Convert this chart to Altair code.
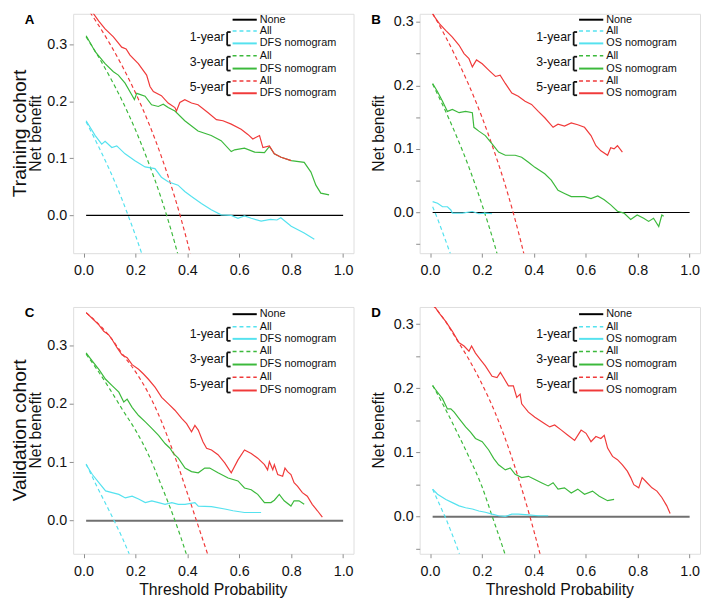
import altair as alt
import pandas as pd

# ---------------- data ----------------
YEARS = ["1-year", "3-year", "5-year"]
LINE_COLORS = ["#55e2ef", "#3cb93c", "#f03a3a"]
X_TICKS = [0.0, 0.2, 0.4, 0.6, 0.8, 1.0]
X_DOMAIN = [-0.04, 1.04]
NONE_X = [0.01, 1.0]
NONE_NB = [0.0, 0.0]

# Panel A: training cohort, DFS
A_NOM_1Y = [(0.01, 0.166), (0.045, 0.14), (0.07, 0.125), (0.083, 0.13), (0.109, 0.119), (0.128, 0.122),
            (0.16, 0.108), (0.198, 0.096), (0.237, 0.085), (0.275, 0.082), (0.30, 0.067), (0.326, 0.059),
            (0.364, 0.053), (0.39, 0.042), (0.416, 0.033), (0.454, 0.021), (0.492, 0.010), (0.53, 0.001),
            (0.569, 0.0), (0.595, -0.005), (0.62, -0.001), (0.646, -0.005), (0.684, -0.010), (0.72, -0.007),
            (0.745, -0.008), (0.76, -0.004), (0.8, -0.019), (0.85, -0.031), (0.889, -0.042)]
A_NOM_3Y = [(0.01, 0.315), (0.045, 0.287), (0.083, 0.266), (0.115, 0.252), (0.134, 0.246), (0.16, 0.232),
            (0.185, 0.212), (0.196, 0.203), (0.205, 0.214), (0.237, 0.209), (0.262, 0.194), (0.288, 0.191),
            (0.307, 0.195), (0.326, 0.189), (0.352, 0.183), (0.39, 0.166), (0.441, 0.148), (0.492, 0.14),
            (0.53, 0.131), (0.569, 0.112), (0.582, 0.115), (0.62, 0.118), (0.659, 0.111), (0.697, 0.11),
            (0.716, 0.121), (0.735, 0.108), (0.761, 0.102), (0.8, 0.096), (0.85, 0.093), (0.876, 0.076),
            (0.895, 0.053), (0.914, 0.039), (0.946, 0.036)]
A_NOM_5Y = [(0.01, 0.372), (0.058, 0.341), (0.083, 0.327), (0.115, 0.313), (0.147, 0.295), (0.164, 0.292),
            (0.179, 0.281), (0.211, 0.266), (0.243, 0.246), (0.256, 0.226), (0.269, 0.217), (0.30, 0.21),
            (0.326, 0.197), (0.352, 0.189), (0.358, 0.183), (0.371, 0.198), (0.39, 0.203), (0.416, 0.197),
            (0.441, 0.194), (0.48, 0.18), (0.512, 0.168), (0.537, 0.166), (0.569, 0.16), (0.607, 0.151),
            (0.633, 0.142), (0.652, 0.134), (0.665, 0.137), (0.678, 0.14), (0.691, 0.119), (0.716, 0.122),
            (0.735, 0.108), (0.761, 0.102), (0.8, 0.096)]
A_ALL_1Y = [(0.01, 0.164), (0.05, 0.128), (0.1, 0.08), (0.125, 0.054), (0.15, 0.026), (0.175, -0.004),
            (0.2, -0.035), (0.225, -0.068), (0.25, -0.104)]
A_ALL_3Y = [(0.01, 0.313), (0.05, 0.284), (0.1, 0.244), (0.15, 0.2), (0.2, 0.15), (0.25, 0.093),
            (0.3, 0.029), (0.35, -0.046), (0.4, -0.133)]
A_ALL_5Y = [(0.01, 0.366), (0.05, 0.339), (0.1, 0.302), (0.15, 0.261), (0.2, 0.215), (0.25, 0.163),
            (0.3, 0.103), (0.35, 0.034), (0.4, -0.047), (0.45, -0.142)]

# Panel B: training cohort, OS
B_NOM_1Y = [(0.01, 0.017), (0.029, 0.0145), (0.048, 0.009), (0.067, 0.009), (0.08, 0.004), (0.086, -0.001),
            (0.125, -0.001), (0.163, 0.0015), (0.188, -0.002), (0.213, -0.001), (0.239, -0.002)]
B_NOM_3Y = [(0.01, 0.203), (0.029, 0.19), (0.048, 0.175), (0.067, 0.159), (0.086, 0.162), (0.112, 0.157),
            (0.137, 0.159), (0.163, 0.157), (0.169, 0.134), (0.188, 0.128), (0.213, 0.121), (0.239, 0.108),
            (0.264, 0.095), (0.29, 0.09), (0.328, 0.09), (0.353, 0.087), (0.379, 0.079), (0.404, 0.071),
            (0.442, 0.061), (0.467, 0.051), (0.493, 0.035), (0.518, 0.03), (0.544, 0.025), (0.569, 0.025),
            (0.595, 0.025), (0.62, 0.022), (0.646, 0.026), (0.671, 0.02), (0.696, 0.012), (0.722, 0.002),
            (0.747, -0.001), (0.773, -0.011), (0.798, -0.004), (0.823, -0.009), (0.842, -0.014),
            (0.861, -0.009), (0.881, -0.022), (0.893, -0.004), (0.9, -0.006)]
B_NOM_5Y = [(0.01, 0.312), (0.036, 0.297), (0.061, 0.286), (0.086, 0.276), (0.112, 0.263), (0.131, 0.25),
            (0.15, 0.242), (0.163, 0.229), (0.179, 0.24), (0.201, 0.234), (0.226, 0.224), (0.252, 0.214),
            (0.27, 0.216), (0.29, 0.203), (0.315, 0.188), (0.34, 0.183), (0.366, 0.175), (0.391, 0.17),
            (0.417, 0.159), (0.442, 0.149), (0.474, 0.134), (0.493, 0.139), (0.518, 0.136), (0.544, 0.141),
            (0.569, 0.138), (0.595, 0.134), (0.62, 0.121), (0.639, 0.105), (0.658, 0.097), (0.684, 0.09),
            (0.696, 0.102), (0.709, 0.1), (0.722, 0.105), (0.741, 0.095)]
B_ALL_1Y = [(0.01, 0.009), (0.03, -0.011), (0.05, -0.033), (0.075, -0.061), (0.1, -0.09)]
B_ALL_3Y = [(0.01, 0.202), (0.05, 0.168), (0.1, 0.122), (0.15, 0.071), (0.2, 0.0125), (0.25, -0.053),
            (0.3, -0.129)]
B_ALL_5Y = [(0.01, 0.313), (0.05, 0.284), (0.1, 0.244), (0.15, 0.2), (0.2, 0.15), (0.25, 0.093),
            (0.3, 0.029), (0.35, -0.046), (0.4, -0.133)]

# Panel C: validation cohort, DFS
C_NOM_1Y = [(0.01, 0.096), (0.034, 0.079), (0.059, 0.065), (0.085, 0.051), (0.11, 0.048), (0.136, 0.045),
            (0.161, 0.039), (0.187, 0.042), (0.212, 0.037), (0.238, 0.031), (0.263, 0.034), (0.289, 0.031),
            (0.314, 0.028), (0.34, 0.031), (0.365, 0.028), (0.391, 0.028), (0.429, 0.031), (0.442, 0.025),
            (0.493, 0.024), (0.544, 0.02), (0.576, 0.017), (0.62, 0.014), (0.684, 0.014)]
C_NOM_3Y = [(0.01, 0.287), (0.034, 0.273), (0.059, 0.259), (0.085, 0.242), (0.11, 0.231), (0.136, 0.22),
            (0.155, 0.203), (0.168, 0.208), (0.187, 0.194), (0.212, 0.18), (0.238, 0.169), (0.263, 0.158),
            (0.289, 0.146), (0.314, 0.132), (0.333, 0.124), (0.346, 0.115), (0.365, 0.107), (0.391, 0.09),
            (0.416, 0.084), (0.442, 0.082), (0.467, 0.09), (0.486, 0.09), (0.518, 0.082), (0.557, 0.073),
            (0.595, 0.068), (0.62, 0.056), (0.646, 0.053), (0.671, 0.045), (0.697, 0.031), (0.722, 0.031),
            (0.735, 0.035), (0.754, 0.045), (0.773, 0.034), (0.799, 0.025), (0.811, 0.034), (0.83, 0.034),
            (0.85, 0.028)]
C_NOM_5Y = [(0.01, 0.356), (0.034, 0.346), (0.059, 0.335), (0.078, 0.324), (0.097, 0.318), (0.11, 0.31),
            (0.129, 0.296), (0.148, 0.284), (0.168, 0.279), (0.187, 0.267), (0.212, 0.259), (0.231, 0.251),
            (0.25, 0.242), (0.276, 0.228), (0.301, 0.211), (0.327, 0.2), (0.352, 0.189), (0.378, 0.175),
            (0.397, 0.166), (0.416, 0.152), (0.429, 0.163), (0.442, 0.155), (0.46, 0.135), (0.474, 0.124),
            (0.493, 0.121), (0.518, 0.113), (0.544, 0.099), (0.569, 0.082), (0.595, 0.104), (0.62, 0.121),
            (0.646, 0.115), (0.671, 0.107), (0.697, 0.096), (0.709, 0.087), (0.716, 0.101), (0.729, 0.087),
            (0.735, 0.096), (0.748, 0.079), (0.767, 0.076), (0.776, 0.09), (0.786, 0.084), (0.799, 0.079),
            (0.811, 0.065), (0.824, 0.059), (0.843, 0.048), (0.862, 0.042), (0.881, 0.028), (0.901, 0.017),
            (0.92, 0.006)]
C_ALL_1Y = [(0.01, 0.097), (0.05, 0.06), (0.1, 0.016), (0.12, -0.002), (0.15, -0.03), (0.175, -0.056),
            (0.2, -0.083)]
C_ALL_3Y = [(0.01, 0.285), (0.05, 0.26), (0.1, 0.226), (0.15, 0.19), (0.2, 0.155), (0.25, 0.113),
            (0.3, 0.06), (0.35, 0.003), (0.4, -0.063), (0.45, -0.14)]
C_ALL_5Y = [(0.01, 0.356), (0.05, 0.34), (0.1, 0.316), (0.15, 0.285), (0.2, 0.255), (0.25, 0.218),
            (0.3, 0.17), (0.35, 0.112), (0.4, 0.047), (0.45, -0.02), (0.48, -0.06), (0.5, -0.088)]

# Panel D: validation cohort, OS
D_NOM_1Y = [(0.01, 0.043), (0.029, 0.035), (0.061, 0.027), (0.086, 0.022), (0.112, 0.017), (0.137, 0.014),
            (0.163, 0.012), (0.188, 0.009), (0.213, 0.007), (0.239, 0.004), (0.264, 0.0015), (0.29, 0.0005),
            (0.315, 0.004), (0.34, 0.004), (0.379, 0.003), (0.417, 0.0015), (0.455, 0.0015)]
D_NOM_3Y = [(0.01, 0.204), (0.029, 0.194), (0.048, 0.184), (0.067, 0.168), (0.08, 0.168), (0.093, 0.163),
            (0.112, 0.153), (0.137, 0.14), (0.156, 0.132), (0.175, 0.122), (0.201, 0.117), (0.226, 0.104),
            (0.245, 0.091), (0.264, 0.081), (0.29, 0.073), (0.309, 0.076), (0.328, 0.066), (0.353, 0.061),
            (0.379, 0.063), (0.404, 0.058), (0.429, 0.053), (0.455, 0.048), (0.474, 0.053), (0.493, 0.043),
            (0.518, 0.045), (0.544, 0.037), (0.569, 0.043), (0.595, 0.035), (0.626, 0.04), (0.652, 0.032),
            (0.684, 0.025), (0.709, 0.027)]
D_NOM_5Y = [(0.01, 0.332), (0.036, 0.317), (0.061, 0.304), (0.086, 0.289), (0.112, 0.271), (0.131, 0.266),
            (0.15, 0.258), (0.16, 0.266), (0.175, 0.255), (0.194, 0.245), (0.213, 0.235), (0.239, 0.219),
            (0.258, 0.217), (0.271, 0.225), (0.283, 0.217), (0.302, 0.204), (0.321, 0.204), (0.334, 0.186),
            (0.347, 0.191), (0.353, 0.176), (0.379, 0.163), (0.404, 0.155), (0.442, 0.145), (0.461, 0.14),
            (0.48, 0.143), (0.506, 0.135), (0.531, 0.127), (0.557, 0.119), (0.582, 0.135), (0.601, 0.13),
            (0.62, 0.117), (0.639, 0.125), (0.658, 0.122), (0.671, 0.127), (0.684, 0.107), (0.703, 0.094),
            (0.722, 0.089), (0.741, 0.081), (0.76, 0.071), (0.773, 0.061), (0.785, 0.05), (0.804, 0.045),
            (0.817, 0.061), (0.836, 0.053), (0.855, 0.045), (0.874, 0.04), (0.893, 0.03), (0.912, 0.017),
            (0.925, 0.005)]
D_ALL_1Y = [(0.01, 0.043), (0.03, 0.025), (0.05, 0.007), (0.06, -0.002), (0.08, -0.022), (0.1, -0.043),
            (0.12, -0.066)]
D_ALL_3Y = [(0.01, 0.205), (0.05, 0.175), (0.1, 0.135), (0.15, 0.093), (0.2, 0.047), (0.24, 0.0),
            (0.29, -0.06), (0.32, -0.1)]
D_ALL_5Y = [(0.01, 0.33), (0.05, 0.31), (0.1, 0.278), (0.15, 0.245), (0.2, 0.207), (0.25, 0.163),
            (0.3, 0.11), (0.35, 0.048), (0.385, 0.0), (0.4, -0.022), (0.425, -0.06), (0.45, -0.1)]

Y_TICKS_MAJOR = [0.0, 0.1, 0.2, 0.3]
Y_TICKS_MINOR = [-0.05, 0.0, 0.05, 0.1, 0.15, 0.2, 0.25, 0.3]

# ---------------- layout / style ----------------
FONT = "Liberation Sans"
PANEL_W = 284
TOP_H = 242.5
BOT_H = 250
TICK_COLOR = "#8c8c8c"
TEXT_COLOR = "#111111"

TOP_LEGEND = dict(none=6, rows=[(17.5, 30), (42.5, 55.5), (68, 80.5)], labels=[24, 49, 74.5])
BOT_LEGEND = dict(none=7.3, rows=[(20, 32.3), (45, 58.3), (71.3, 84.6)], labels=[27.3, 52.3, 78.3])


def curves_df(series):
    rows = []
    for year, pts in zip(YEARS, series):
        for x, nb in pts:
            rows.append({"x": x, "nb": nb, "year": year})
    return pd.DataFrame(rows)


PX = alt.X("px:Q", scale=None, axis=None)
PY = alt.Y("py:Q", scale=None, axis=None)


def make_panel(letter, side_title, nom_label, noms, alls, ydom, yticks, h, leg,
               zero_color, zero_width, net_x, show_xtitle):
    x_enc = alt.X("x:Q", scale=alt.Scale(domain=X_DOMAIN, nice=False, zero=False),
                  axis=alt.Axis(values=X_TICKS, format=".1f", title=None, domain=False, grid=False,
                                tickSize=4, tickColor=TICK_COLOR, labelPadding=7, labelFlush=False,
                                labelFontSize=14.5, labelFont=FONT, labelColor=TEXT_COLOR,
                                labelOverlap=False))
    y_enc = alt.Y("nb:Q", scale=alt.Scale(domain=ydom, nice=False, zero=False),
                  axis=alt.Axis(values=yticks, title=None, domain=False, grid=False,
                                labelExpr="abs(round(datum.value*20)) % 2 == 1 ? '' : format(datum.value, '.1f')",
                                tickSize=4, tickColor=TICK_COLOR, labelPadding=2.5,
                                labelFontSize=14.5, labelFont=FONT, labelColor=TEXT_COLOR,
                                labelOverlap=False, labelFlush=False))
    color = alt.Color("year:N", scale=alt.Scale(domain=YEARS, range=LINE_COLORS), legend=None)

    zero = alt.Chart(pd.DataFrame({"x": NONE_X, "nb": NONE_NB})).mark_line(
        color=zero_color, strokeWidth=zero_width, clip=True).encode(x=x_enc, y=y_enc)
    dashed = alt.Chart(curves_df(alls)).mark_line(
        strokeDash=[4, 3], strokeWidth=1.2, clip=True, interpolate="monotone").encode(
        x=x_enc, y=y_enc, color=color)
    solid = alt.Chart(curves_df(noms)).mark_line(strokeWidth=1.2, clip=True).encode(
        x=x_enc, y=y_enc, color=color)

    # legend (pixel positioned decorations)
    lx1, lx2, ltx = 161.5, 186, 189
    solid_rows = [{"px": lx1, "px2": lx2, "py": leg["none"], "col": "#000000"}]
    dash_rows = []
    text_rows = [{"px": ltx, "py": leg["none"], "t": "None"}]
    for (dy, sy), c in zip(leg["rows"], LINE_COLORS):
        dash_rows.append({"px": lx1, "px2": lx2, "py": dy, "col": c})
        solid_rows.append({"px": lx1, "px2": lx2, "py": sy, "col": c})
        text_rows.append({"px": ltx, "py": dy, "t": "All"})
        text_rows.append({"px": ltx, "py": sy, "t": nom_label})
    bracket_rows = []
    bx, btx = 156, 159.5
    for dy, sy in leg["rows"]:
        top, bot = dy + 1, sy + 2
        bracket_rows.append({"px": bx, "px2": bx, "py": top, "py2": bot})
        bracket_rows.append({"px": bx, "px2": btx, "py": top, "py2": top})
        bracket_rows.append({"px": bx, "px2": btx, "py": bot, "py2": bot})
    year_rows = [{"px": 153.5, "py": yy, "t": yr} for yy, yr in zip(leg["labels"], YEARS)]

    leg_solid = alt.Chart(pd.DataFrame(solid_rows)).mark_rule(strokeWidth=2).encode(
        x=PX, x2="px2:Q", y=PY, stroke=alt.Stroke("col:N", scale=None))
    leg_dash = alt.Chart(pd.DataFrame(dash_rows)).mark_rule(strokeWidth=1.5, strokeDash=[4, 3]).encode(
        x=PX, x2="px2:Q", y=PY, stroke=alt.Stroke("col:N", scale=None))
    leg_text = alt.Chart(pd.DataFrame(text_rows)).mark_text(
        align="left", baseline="middle", fontSize=11, font=FONT, color=TEXT_COLOR).encode(
        x=PX, y=PY, text="t:N")
    leg_years = alt.Chart(pd.DataFrame(year_rows)).mark_text(
        align="right", baseline="middle", fontSize=12.5, font=FONT, color=TEXT_COLOR).encode(
        x=PX, y=PY, text="t:N")
    brackets = alt.Chart(pd.DataFrame(bracket_rows)).mark_rule(strokeWidth=1.8, color="#111111").encode(
        x=PX, x2="px2:Q", y=PY, y2="py2:Q")

    letter_t = alt.Chart(pd.DataFrame([{"px": -49, "py": -1, "t": letter}])).mark_text(
        align="left", baseline="top", fontSize=13.5, fontWeight="bold", font=FONT, color="#000000").encode(
        x=PX, y=PY, text="t:N")
    net_t = alt.Chart(pd.DataFrame([{"px": net_x, "py": h / 2, "t": "Net benefit"}])).mark_text(
        angle=270, align="center", baseline="middle", fontSize=16, font=FONT, color=TEXT_COLOR).encode(
        x=PX, y=PY, text="t:N")

    layers = [zero, dashed, solid, leg_solid, leg_dash, brackets, leg_text, leg_years, letter_t, net_t]
    if side_title:
        side_t = alt.Chart(pd.DataFrame([{"px": -54, "py": h / 2, "t": side_title}])).mark_text(
            angle=270, align="center", baseline="middle", fontSize=19.5, font=FONT, color=TEXT_COLOR).encode(
            x=PX, y=PY, text="t:N")
        layers.append(side_t)
    if show_xtitle:
        x_t = alt.Chart(pd.DataFrame([{"px": PANEL_W / 2, "py": h + 36.5, "t": "Threshold Probability"}])).mark_text(
            align="center", baseline="middle", fontSize=16, font=FONT, color=TEXT_COLOR).encode(
            x=PX, y=PY, text="t:N")
        layers.append(x_t)
    return alt.layer(*layers).properties(width=PANEL_W, height=h)


pA = make_panel("A", "Training cohort", "DFS nomogram", [A_NOM_1Y, A_NOM_3Y, A_NOM_5Y],
                [A_ALL_1Y, A_ALL_3Y, A_ALL_5Y], [-0.0662, 0.3535], Y_TICKS_MAJOR, TOP_H, TOP_LEGEND,
                "#000000", 1.2, -37.5, False)
pB = make_panel("B", None, "OS nomogram", [B_NOM_1Y, B_NOM_3Y, B_NOM_5Y],
                [B_ALL_1Y, B_ALL_3Y, B_ALL_5Y], [-0.064, 0.3126], Y_TICKS_MINOR, TOP_H, TOP_LEGEND,
                "#000000", 1.2, -41.5, False)
pC = make_panel("C", "Validation cohort", "DFS nomogram", [C_NOM_1Y, C_NOM_3Y, C_NOM_5Y],
                [C_ALL_1Y, C_ALL_3Y, C_ALL_5Y], [-0.0566, 0.3657], Y_TICKS_MAJOR, BOT_H, BOT_LEGEND,
                "#707070", 2, -37.5, True)
pD = make_panel("D", None, "OS nomogram", [D_NOM_1Y, D_NOM_3Y, D_NOM_5Y],
                [D_ALL_1Y, D_ALL_3Y, D_ALL_5Y], [-0.0577, 0.3269], Y_TICKS_MINOR, BOT_H, BOT_LEGEND,
                "#707070", 2, -41.5, True)

chart = alt.concat(pA, pB, pC, pD, columns=2, spacing={"row": 54, "column": 67}, bounds="flush").properties(
    padding={"left": 1, "top": 0, "right": 0, "bottom": 0}
).configure_view(stroke="#8c8c8c", strokeWidth=1).configure(font=FONT)

chart.save("out.html", embed_options={"renderer": "svg", "actions": False})
